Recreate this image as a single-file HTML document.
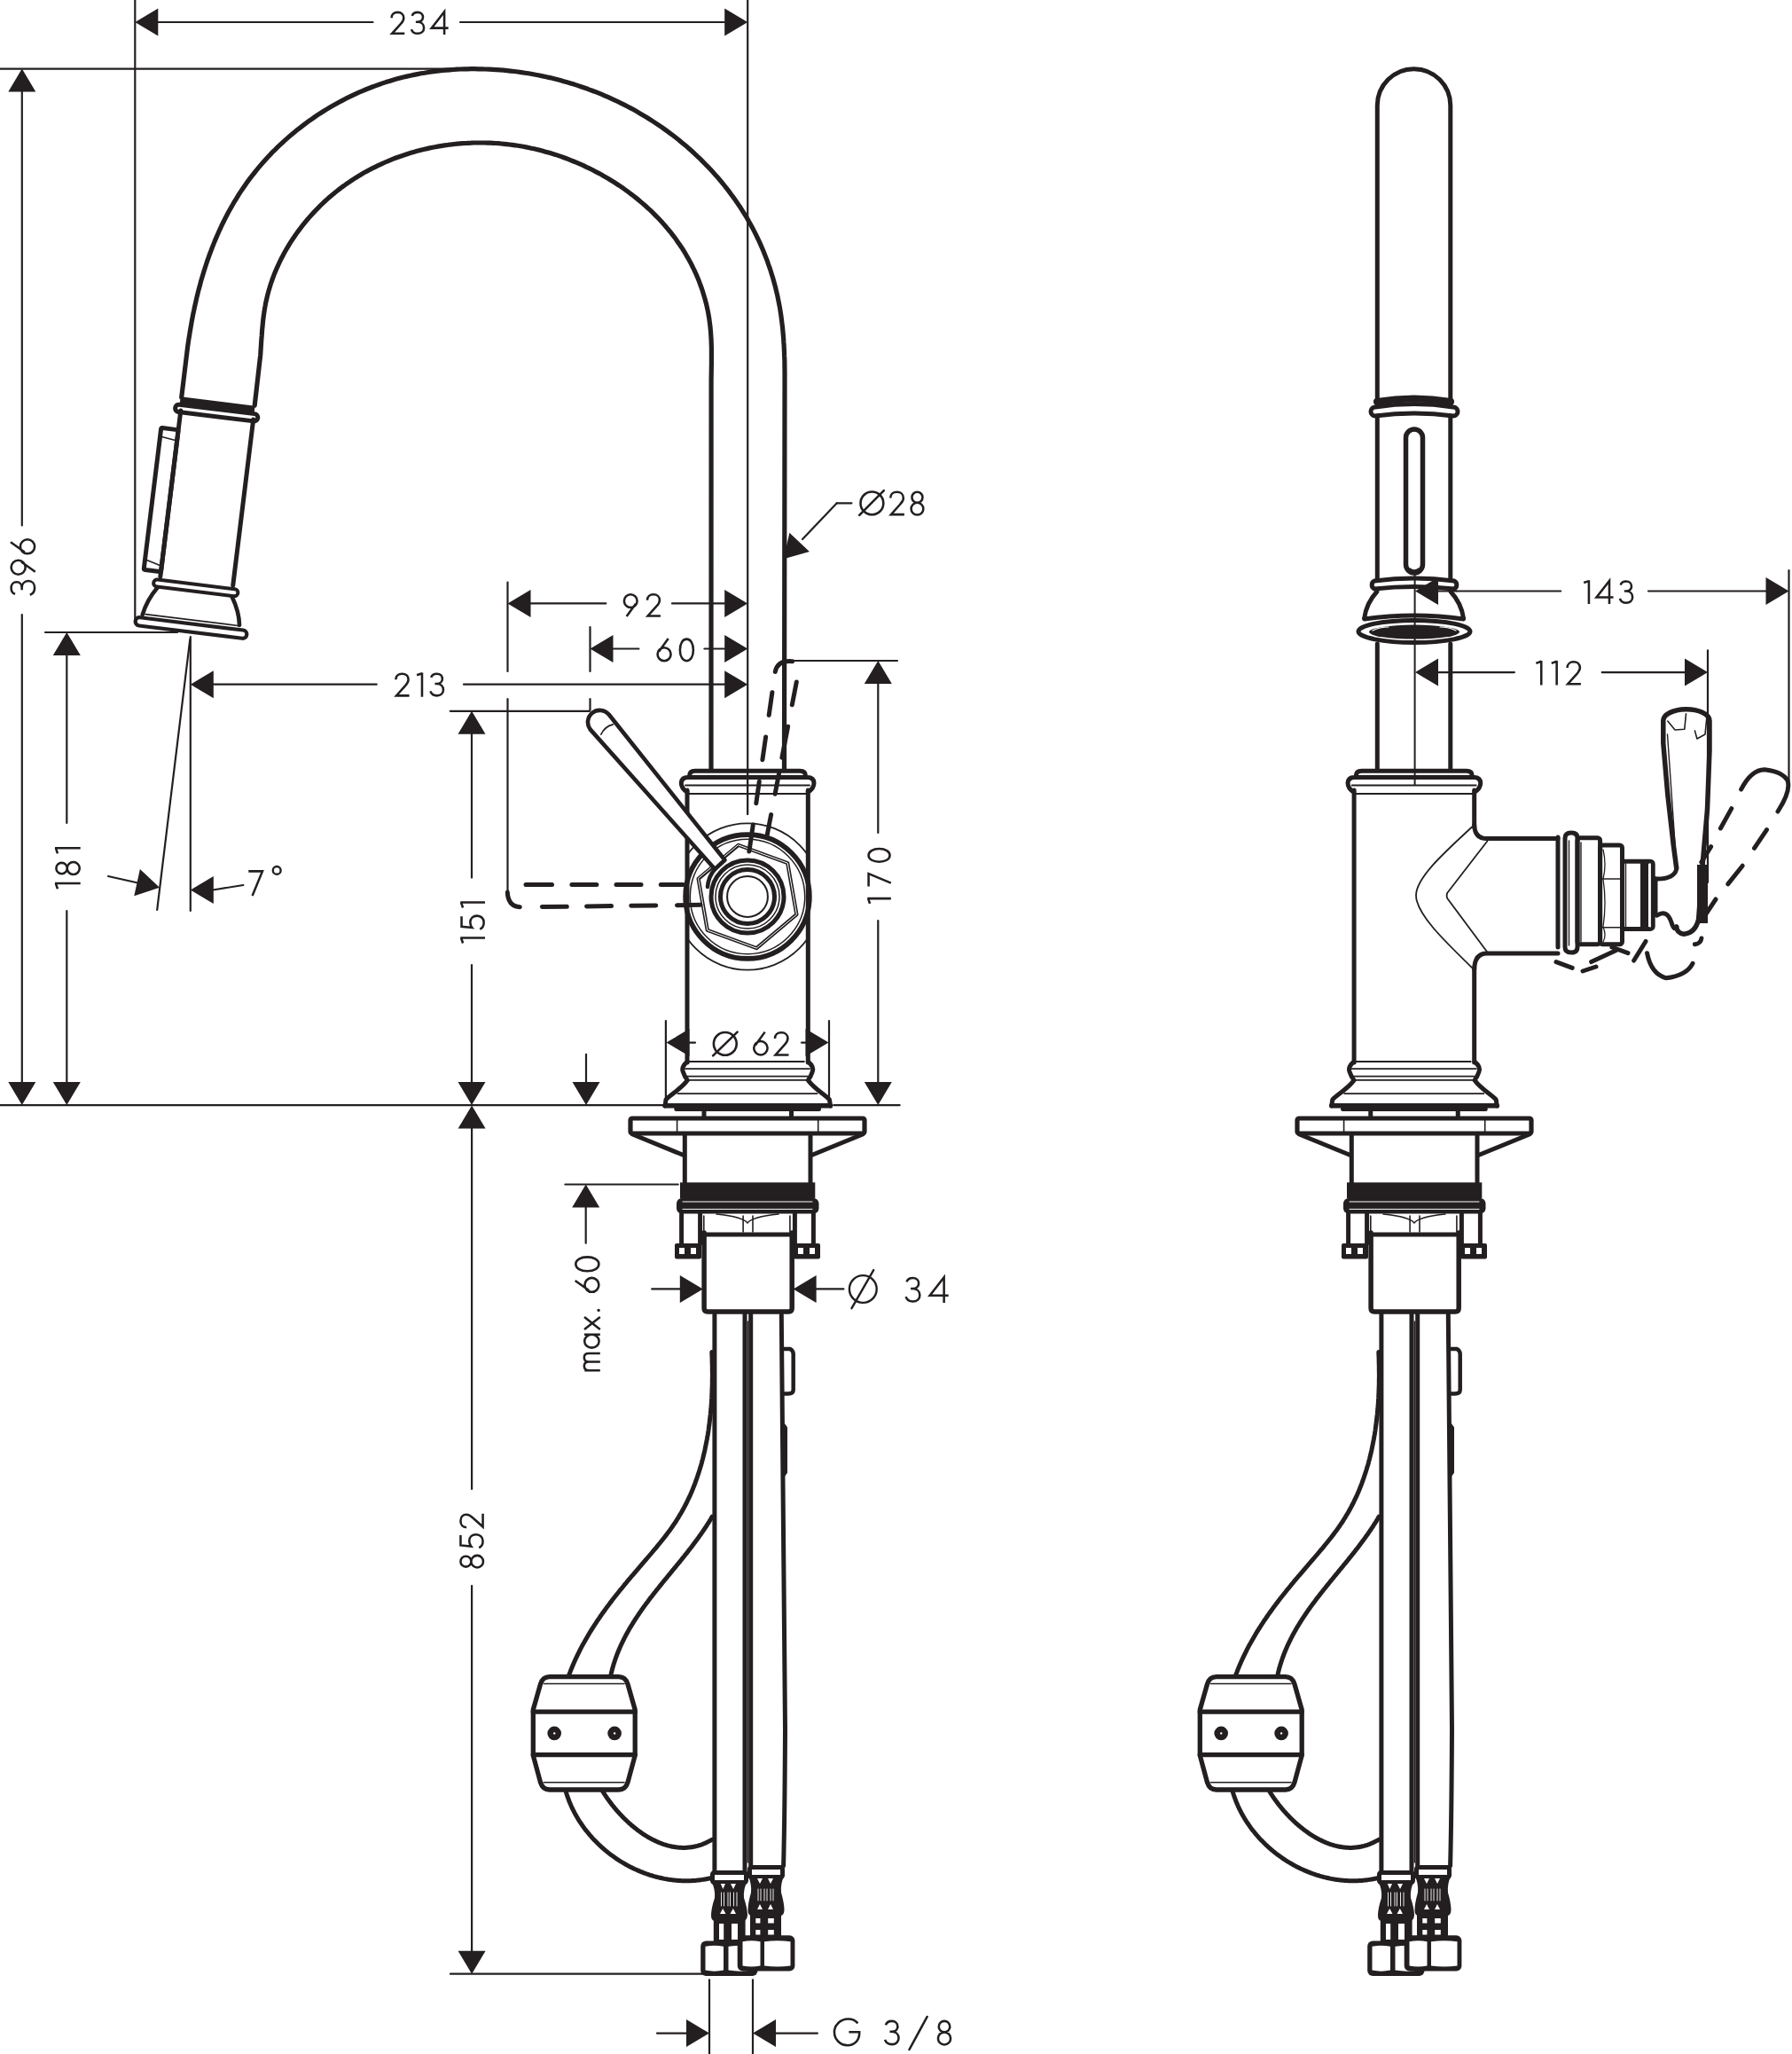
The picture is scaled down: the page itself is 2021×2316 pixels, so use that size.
<!DOCTYPE html>
<html><head><meta charset="utf-8"><style>
html,body{margin:0;padding:0;background:#fff;}
svg{display:block;will-change:transform;}
text{font-family:"Liberation Sans",sans-serif;fill:#231f20;stroke:#fff;stroke-width:0.9px;}
</style></head><body>
<svg width="2021" height="2316" viewBox="0 0 2021 2316">
<rect width="2021" height="2316" fill="#fff"/>
<g fill="none" stroke="#231f20" stroke-linecap="round" stroke-linejoin="round">
<line x1="152.3" y1="0.0" x2="152.3" y2="700.0" stroke-width="2.2" />
<line x1="843.2" y1="0.0" x2="843.2" y2="918.0" stroke-width="2.2" />
<path d="M152.3,25.0 L178.3,9.5 L178.3,40.5Z" fill="#231f20" stroke="none"/>
<path d="M843.2,25.0 L817.2,40.5 L817.2,9.5Z" fill="#231f20" stroke="none"/>
<line x1="178.0" y1="25.0" x2="420.5" y2="25.0" stroke-width="2.2" />
<line x1="519.0" y1="25.0" x2="817.0" y2="25.0" stroke-width="2.2" />
<line x1="0.0" y1="77.6" x2="545.0" y2="77.6" stroke-width="2.2" />
<path d="M24.8,77.6 L40.3,103.6 L9.3,103.6Z" fill="#231f20" stroke="none"/>
<path d="M24.8,1246.0 L9.3,1220.0 L40.3,1220.0Z" fill="#231f20" stroke="none"/>
<line x1="24.8" y1="103.0" x2="24.8" y2="592.5" stroke-width="2.2" />
<line x1="24.8" y1="693.0" x2="24.8" y2="1221.0" stroke-width="2.2" />
<line x1="0.0" y1="1246.2" x2="748.5" y2="1246.2" stroke-width="2.2" />
<line x1="940.2" y1="1246.2" x2="1014.6" y2="1246.2" stroke-width="2.2" />
<line x1="51.0" y1="713.0" x2="200.0" y2="713.0" stroke-width="2.2" />
<path d="M75.3,713.0 L90.8,739.0 L59.8,739.0Z" fill="#231f20" stroke="none"/>
<path d="M75.3,1246.0 L59.8,1220.0 L90.8,1220.0Z" fill="#231f20" stroke="none"/>
<line x1="75.3" y1="739.0" x2="75.3" y2="928.0" stroke-width="2.2" />
<line x1="75.3" y1="1027.0" x2="75.3" y2="1221.0" stroke-width="2.2" />
<path d="M214.8,771.7 L240.8,756.2 L240.8,787.2Z" fill="#231f20" stroke="none"/>
<path d="M843.2,771.7 L817.2,787.2 L817.2,756.2Z" fill="#231f20" stroke="none"/>
<line x1="240.0" y1="771.7" x2="424.7" y2="771.7" stroke-width="2.2" />
<line x1="523.0" y1="771.7" x2="817.0" y2="771.7" stroke-width="2.2" />
<line x1="214.8" y1="718.0" x2="214.8" y2="1027.0" stroke-width="2.2" />
<line x1="214.3" y1="720.9" x2="177.2" y2="1025.8" stroke-width="2.2" />
<path d="M180.0,1000.7 L151.3,1010.3 L157.9,980.0Z" fill="#231f20" stroke="none"/>
<line x1="122.0" y1="988.0" x2="160.0" y2="996.5" stroke-width="2.2" />
<path d="M214.8,1003.5 L240.8,988.0 L240.8,1019.0Z" fill="#231f20" stroke="none"/>
<line x1="240.0" y1="1003.5" x2="274.3" y2="998.0" stroke-width="2.2" />
<path d="M572.5,680.4 L598.5,664.9 L598.5,695.9Z" fill="#231f20" stroke="none"/>
<path d="M843.2,680.4 L817.2,695.9 L817.2,664.9Z" fill="#231f20" stroke="none"/>
<line x1="598.0" y1="680.4" x2="683.3" y2="680.4" stroke-width="2.2" />
<line x1="758.0" y1="680.4" x2="817.0" y2="680.4" stroke-width="2.2" />
<line x1="572.5" y1="656.7" x2="572.5" y2="757.0" stroke-width="2.2" />
<line x1="572.5" y1="788.0" x2="572.5" y2="1006.0" stroke-width="2.2" />
<path d="M665.5,731.5 L691.5,716.0 L691.5,747.0Z" fill="#231f20" stroke="none"/>
<path d="M843.2,731.5 L817.2,747.0 L817.2,716.0Z" fill="#231f20" stroke="none"/>
<line x1="691.0" y1="731.5" x2="720.4" y2="731.5" stroke-width="2.2" />
<line x1="794.4" y1="731.5" x2="817.0" y2="731.5" stroke-width="2.2" />
<line x1="665.5" y1="707.0" x2="665.5" y2="757.0" stroke-width="2.2" />
<line x1="665.5" y1="788.0" x2="665.5" y2="801.0" stroke-width="2.2" />
<line x1="507.8" y1="801.8" x2="665.0" y2="801.8" stroke-width="2.2" />
<path d="M532.0,801.8 L547.5,827.8 L516.5,827.8Z" fill="#231f20" stroke="none"/>
<path d="M532.0,1246.0 L516.5,1220.0 L547.5,1220.0Z" fill="#231f20" stroke="none"/>
<line x1="532.0" y1="827.0" x2="532.0" y2="989.6" stroke-width="2.2" />
<line x1="532.0" y1="1088.0" x2="532.0" y2="1221.0" stroke-width="2.2" />
<line x1="894.8" y1="745.0" x2="1012.0" y2="745.0" stroke-width="2.2" />
<path d="M990.3,745.0 L1005.8,771.0 L974.8,771.0Z" fill="#231f20" stroke="none"/>
<path d="M990.3,1246.0 L974.8,1220.0 L1005.8,1220.0Z" fill="#231f20" stroke="none"/>
<line x1="990.3" y1="770.0" x2="990.3" y2="939.0" stroke-width="2.2" />
<line x1="990.3" y1="1038.0" x2="990.3" y2="1221.0" stroke-width="2.2" />
<path d="M661.0,1246.0 L645.5,1220.0 L676.5,1220.0Z" fill="#231f20" stroke="none"/>
<line x1="661.0" y1="1188.8" x2="661.0" y2="1221.0" stroke-width="2.2" />
<line x1="750.9" y1="1151.0" x2="750.9" y2="1246.0" stroke-width="2.2" />
<line x1="935.0" y1="1151.0" x2="935.0" y2="1246.0" stroke-width="2.2" />
<path d="M751.5,1175.6 L777.5,1160.1 L777.5,1191.1Z" fill="#231f20" stroke="none"/>
<path d="M934.5,1175.6 L908.5,1191.1 L908.5,1160.1Z" fill="#231f20" stroke="none"/>
<line x1="777.0" y1="1175.6" x2="784.0" y2="1175.6" stroke-width="2.2" />
<line x1="904.0" y1="1175.6" x2="911.0" y2="1175.6" stroke-width="2.2" />
<circle cx="817.8" cy="1176.9" r="12.9" stroke-width="2.6"/>
<line x1="804.1" y1="1190.4" x2="831.6" y2="1163.6" stroke-width="2.6" />
<path d="M883.7,630.2 L890.4,600.7 L912.9,622.1Z" fill="#231f20" stroke="none"/>
<line x1="905.0" y1="608.0" x2="943.6" y2="567.4" stroke-width="2.2" />
<line x1="943.6" y1="567.4" x2="960.4" y2="567.4" stroke-width="2.2" />
<circle cx="983.4" cy="567.4" r="12.9" stroke-width="2.6"/>
<line x1="969.2" y1="580.8" x2="996.8" y2="553.2" stroke-width="2.6" />
<line x1="637.4" y1="1335.5" x2="764.7" y2="1335.5" stroke-width="2.2" />
<path d="M660.7,1335.5 L676.2,1361.5 L645.2,1361.5Z" fill="#231f20" stroke="none"/>
<line x1="660.7" y1="1361.0" x2="660.7" y2="1401.7" stroke-width="2.2" />
<path d="M792.8,1453.4 L766.8,1468.9 L766.8,1437.9Z" fill="#231f20" stroke="none"/>
<line x1="735.2" y1="1453.4" x2="768.0" y2="1453.4" stroke-width="2.2" />
<path d="M894.6,1453.4 L920.6,1437.9 L920.6,1468.9Z" fill="#231f20" stroke="none"/>
<line x1="919.0" y1="1453.4" x2="951.4" y2="1453.4" stroke-width="2.2" />
<circle cx="973.3" cy="1453.5" r="15.4" stroke-width="2.4"/>
<line x1="960.5" y1="1475.2" x2="985.2" y2="1432.1" stroke-width="2.4" />
<path d="M532.1,1246.5 L547.6,1272.5 L516.6,1272.5Z" fill="#231f20" stroke="none"/>
<path d="M532.1,2225.7 L516.6,2199.7 L547.6,2199.7Z" fill="#231f20" stroke="none"/>
<line x1="532.1" y1="1272.0" x2="532.1" y2="1679.0" stroke-width="2.2" />
<line x1="532.1" y1="1788.0" x2="532.1" y2="2201.0" stroke-width="2.2" />
<line x1="508.0" y1="2225.7" x2="792.0" y2="2225.7" stroke-width="2.2" />
<line x1="800.0" y1="2232.4" x2="800.0" y2="2316.0" stroke-width="2.2" />
<line x1="849.0" y1="2232.4" x2="849.0" y2="2316.0" stroke-width="2.2" />
<path d="M800.0,2292.6 L774.0,2308.1 L774.0,2277.1Z" fill="#231f20" stroke="none"/>
<line x1="741.0" y1="2292.6" x2="775.0" y2="2292.6" stroke-width="2.2" />
<path d="M849.0,2292.6 L875.0,2277.1 L875.0,2308.1Z" fill="#231f20" stroke="none"/>
<line x1="874.0" y1="2292.6" x2="921.9" y2="2292.6" stroke-width="2.2" />
<line x1="1025.5" y1="2311.0" x2="1045.6" y2="2274.0" stroke-width="2.6" />
<path d="M204.7,448.0 L211.7,390.4 L212.3,386.3 L212.9,382.3 L213.6,378.2 L214.2,374.2 L214.9,370.2 L215.6,366.1 L216.3,362.1 L217.1,358.1 L217.8,354.1 L218.7,350.1 L219.5,346.1 L220.4,342.1 L221.3,338.1 L222.2,334.1 L223.2,330.2 L224.2,326.2 L225.3,322.3 L226.3,318.3 L227.4,314.4 L228.6,310.5 L229.8,306.6 L231.0,302.7 L232.3,298.8 L233.5,295.0 L234.9,291.1 L236.2,287.3 L237.7,283.5 L239.1,279.7 L240.6,275.9 L242.1,272.1 L243.7,268.4 L245.3,264.7 L246.9,261.0 L248.6,257.3 L250.3,253.7 L252.1,250.0 L253.9,246.4 L255.8,242.8 L257.6,239.3 L259.6,235.7 L261.6,232.2 L263.6,228.7 L265.7,225.3 L267.8,221.8 L269.9,218.4 L272.1,215.1 L274.4,211.7 L276.7,208.4 L279.0,205.1 L281.4,201.9 L283.9,198.6 L286.4,195.5 L288.9,192.3 L291.5,189.2 L294.1,186.1 L296.8,183.0 L299.5,180.0 L302.2,177.0 L305.0,174.1 L307.8,171.1 L310.7,168.3 L313.6,165.4 L316.6,162.6 L319.6,159.8 L322.6,157.1 L325.7,154.4 L328.8,151.8 L331.9,149.2 L335.1,146.6 L338.3,144.1 L341.5,141.6 L344.8,139.1 L348.1,136.7 L351.5,134.3 L354.8,132.0 L358.2,129.7 L361.6,127.5 L365.1,125.3 L368.6,123.1 L372.1,121.0 L375.6,119.0 L379.2,117.0 L382.8,115.0 L386.4,113.1 L390.0,111.2 L393.7,109.4 L397.4,107.6 L401.1,105.9 L404.8,104.2 L408.6,102.6 L412.3,101.0 L416.1,99.5 L419.9,98.0 L423.8,96.6 L427.6,95.2 L431.4,93.9 L435.3,92.6 L439.2,91.4 L443.1,90.2 L447.0,89.1 L451.0,88.0 L454.9,87.0 L458.8,86.1 L462.8,85.2 L466.8,84.4 L470.8,83.6 L474.8,82.8 L478.8,82.2 L482.8,81.5 L486.8,80.9 L490.8,80.4 L494.9,79.9 L498.9,79.5 L502.9,79.1 L507.0,78.8 L511.0,78.5 L515.1,78.2 L519.2,78.0 L523.2,77.9 L527.3,77.8 L531.3,77.7 L535.4,77.7 L539.5,77.8 L543.5,77.8 L547.6,78.0 L551.7,78.1 L555.7,78.3 L559.8,78.6 L563.8,78.9 L567.9,79.2 L571.9,79.6 L576.0,80.1 L580.0,80.5 L584.1,81.0 L588.1,81.6 L592.1,82.2 L596.1,82.8 L600.1,83.5 L604.1,84.3 L608.1,85.0 L612.1,85.9 L616.1,86.7 L620.1,87.6 L624.0,88.6 L628.0,89.6 L631.9,90.6 L635.8,91.7 L639.7,92.8 L643.6,93.9 L647.5,95.1 L651.4,96.4 L655.3,97.7 L659.1,99.0 L662.9,100.3 L666.7,101.8 L670.5,103.2 L674.3,104.7 L678.1,106.2 L681.8,107.8 L685.6,109.4 L689.3,111.1 L693.0,112.8 L696.7,114.5 L700.3,116.3 L704.0,118.1 L707.6,120.0 L711.2,121.9 L714.8,123.8 L718.3,125.8 L721.8,127.9 L725.3,129.9 L728.8,132.0 L732.3,134.2 L735.7,136.4 L739.1,138.6 L742.5,140.9 L745.9,143.2 L749.2,145.5 L752.5,147.9 L755.8,150.3 L759.1,152.8 L762.3,155.3 L765.5,157.8 L768.6,160.4 L771.8,163.0 L774.9,165.6 L777.9,168.3 L781.0,171.0 L784.0,173.8 L786.9,176.6 L789.9,179.4 L792.8,182.3 L795.6,185.2 L798.5,188.1 L801.3,191.0 L804.0,194.0 L806.7,197.1 L809.4,200.1 L812.1,203.2 L814.7,206.3 L817.2,209.5 L819.7,212.7 L822.2,215.9 L824.6,219.2 L827.0,222.4 L829.4,225.7 L831.7,229.1 L834.0,232.4 L836.2,235.8 L838.4,239.3 L840.5,242.7 L842.6,246.2 L844.6,249.7 L846.6,253.3 L848.5,256.8 L850.4,260.4 L852.3,264.1 L854.0,267.7 L855.8,271.4 L857.5,275.1 L859.1,278.8 L860.7,282.6 L862.2,286.3 L863.7,290.1 L865.2,293.9 L866.5,297.8 L867.9,301.6 L869.2,305.5 L870.4,309.4 L871.6,313.2 L872.7,317.2 L873.8,321.1 L874.8,325.0 L875.7,329.0 L876.7,332.9 L877.5,336.9 L878.3,340.9 L879.1,344.9 L879.8,348.9 L880.4,352.9 L881.0,356.9 L881.5,360.9 L882.0,365.0 L882.5,369.0 L882.9,373.0 L883.2,377.1 L883.6,381.1 L883.8,385.2 L884.1,389.2 L884.3,393.3 L884.5,397.3 L884.6,401.4 L884.8,405.5 L884.9,409.6 L884.9,413.6 L885.0,417.7 L885.0,421.8 L885.0,425.9 L885.0,430.0 L884.5,868" stroke-width="5.2" />
<path d="M287.2,457.1 L293.7,400.5 L293.9,397.3 L294.1,394.2 L294.3,391.1 L294.5,388.0 L294.7,384.9 L294.9,381.8 L295.2,378.7 L295.4,375.6 L295.6,372.5 L295.9,369.4 L296.2,366.4 L296.5,363.3 L296.8,360.2 L297.2,357.1 L297.6,354.1 L298.1,351.0 L298.5,348.0 L299.1,344.9 L299.6,341.9 L300.3,338.9 L301.0,335.9 L301.7,332.9 L302.5,329.9 L303.3,326.9 L304.2,323.9 L305.1,320.9 L306.1,318.0 L307.1,315.1 L308.2,312.1 L309.3,309.2 L310.5,306.3 L311.7,303.4 L313.0,300.6 L314.3,297.7 L315.6,294.9 L317.0,292.1 L318.5,289.3 L319.9,286.5 L321.4,283.8 L323.0,281.0 L324.6,278.3 L326.2,275.6 L327.9,272.9 L329.6,270.3 L331.4,267.7 L333.2,265.0 L335.0,262.5 L336.9,259.9 L338.8,257.4 L340.7,254.9 L342.7,252.4 L344.7,249.9 L346.7,247.5 L348.8,245.1 L350.9,242.7 L353.0,240.4 L355.2,238.1 L357.4,235.8 L359.6,233.6 L361.8,231.3 L364.1,229.2 L366.4,227.0 L368.7,224.9 L371.1,222.8 L373.5,220.7 L375.9,218.7 L378.3,216.7 L380.8,214.8 L383.2,212.9 L385.7,211.0 L388.3,209.2 L390.8,207.3 L393.4,205.6 L396.0,203.8 L398.6,202.1 L401.2,200.4 L403.9,198.8 L406.5,197.2 L409.2,195.6 L411.9,194.1 L414.7,192.6 L417.4,191.1 L420.2,189.7 L423.0,188.3 L425.8,186.9 L428.6,185.6 L431.4,184.3 L434.3,183.0 L437.1,181.8 L440.0,180.6 L442.9,179.4 L445.8,178.3 L448.7,177.2 L451.7,176.2 L454.6,175.2 L457.6,174.2 L460.5,173.2 L463.5,172.3 L466.5,171.4 L469.5,170.6 L472.5,169.8 L475.6,169.0 L478.6,168.3 L481.6,167.6 L484.7,166.9 L487.7,166.3 L490.8,165.7 L493.9,165.1 L496.9,164.6 L500.0,164.1 L503.1,163.7 L506.2,163.2 L509.3,162.9 L512.4,162.5 L515.5,162.2 L518.6,161.9 L521.7,161.7 L524.9,161.5 L528.0,161.3 L531.1,161.2 L534.2,161.0 L537.3,161.0 L540.5,161.0 L543.6,161.0 L546.7,161.0 L549.8,161.1 L553.0,161.2 L556.1,161.3 L559.2,161.5 L562.3,161.7 L565.4,162.0 L568.5,162.3 L571.6,162.6 L574.7,163.0 L577.8,163.4 L580.9,163.8 L584.0,164.3 L587.1,164.8 L590.2,165.3 L593.2,165.9 L596.3,166.5 L599.3,167.2 L602.4,167.8 L605.4,168.5 L608.5,169.3 L611.5,170.1 L614.5,170.9 L617.5,171.7 L620.5,172.6 L623.5,173.5 L626.5,174.4 L629.5,175.4 L632.4,176.4 L635.4,177.5 L638.3,178.5 L641.2,179.6 L644.1,180.8 L647.0,182.0 L649.9,183.2 L652.8,184.4 L655.7,185.6 L658.5,186.9 L661.3,188.3 L664.2,189.6 L667.0,191.0 L669.8,192.4 L672.5,193.9 L675.3,195.3 L678.0,196.8 L680.8,198.4 L683.5,199.9 L686.2,201.5 L688.9,203.2 L691.5,204.8 L694.2,206.5 L696.8,208.2 L699.4,209.9 L702.0,211.7 L704.5,213.5 L707.1,215.3 L709.6,217.2 L712.1,219.1 L714.6,221.0 L717.0,222.9 L719.5,224.9 L721.9,226.9 L724.2,228.9 L726.6,230.9 L728.9,233.0 L731.2,235.1 L733.5,237.2 L735.8,239.4 L738.0,241.6 L740.2,243.8 L742.4,246.0 L744.5,248.3 L746.6,250.6 L748.7,252.9 L750.7,255.2 L752.7,257.6 L754.7,260.0 L756.7,262.4 L758.6,264.9 L760.5,267.3 L762.3,269.8 L764.1,272.4 L765.9,274.9 L767.6,277.5 L769.4,280.1 L771.0,282.7 L772.7,285.4 L774.2,288.1 L775.8,290.8 L777.3,293.5 L778.8,296.2 L780.2,299.0 L781.6,301.8 L783.0,304.6 L784.3,307.5 L785.6,310.4 L786.8,313.2 L788.0,316.1 L789.1,319.1 L790.2,322.0 L791.3,325.0 L792.3,328.0 L793.2,331.0 L794.1,334.0 L795.0,337.0 L795.8,340.0 L796.6,343.0 L797.3,346.1 L798.0,349.2 L798.6,352.2 L799.1,355.3 L799.7,358.4 L800.1,361.5 L800.5,364.5 L800.9,367.6 L801.2,370.7 L801.5,373.8 L801.7,376.9 L801.9,380.0 L802.1,383.1 L802.2,386.2 L802.3,389.4 L802.4,392.5 L802.4,395.6 L802.4,398.7 L802.4,401.8 L802.4,405.0 L802.4,408.1 L802.4,411.2 L802.3,414.3 L802.3,417.5 L802.2,420.6 L802.2,423.7 L802.1,426.8 L802.1,430.0 L802,868" stroke-width="5.2" />
<g transform="translate(215.9,713.3) rotate(7)">
<rect x="-64.3" y="-9.85" width="126.5" height="9.3" rx="4.65" stroke-width="4.2"/>
<line x1="-54.0" y1="-14.2" x2="51.0" y2="-14.2" stroke-width="1.6" />
<path d="M-44,-46 C-50,-37 -55,-27 -57.3,-13" stroke-width="4.6" />
<path d="M40.3,-46 C46,-37 51,-27 52.7,-15" stroke-width="4.6" />
<rect x="-49.2" y="-54.6" width="95.8" height="8" rx="4" stroke-width="4"/>
<line x1="-42.5" y1="-58.5" x2="-42.5" y2="-247.0" stroke-width="5" />
<line x1="40.0" y1="-58.5" x2="40.0" y2="-247.0" stroke-width="5" />
<rect x="-44.5" y="-262.5" width="84.5" height="9.5" fill="#231f20" stroke="none"/>
<rect x="-49" y="-253.5" width="93.8" height="8.3" rx="4.15" stroke-width="5"/>
<rect x="-62" y="-225" width="19.5" height="161" rx="1.5" stroke-width="5"/>
<line x1="-60.0" y1="-215.0" x2="-44.5" y2="-213.0" stroke-width="1.6" />
<line x1="-60.0" y1="-75.0" x2="-44.5" y2="-71.0" stroke-width="1.6" />
</g>
<g transform="translate(440.00,39.10) scale(0.9815)"><path d="M1.6,-19.2 C1.6,-23.3 4.6,-25.7 8.6,-25.7 C12.8,-25.7 15.6,-23 15.6,-19.3 C15.6,-16.6 14.2,-14.6 12.2,-12.5 L2.2,-1.3 H16.6" stroke-width="2.598" stroke-linecap="butt" stroke-linejoin="miter"/></g>
<g transform="translate(462.79,39.10) scale(0.9815)"><path d="M2.0,-21.6 C2.8,-24.2 5.3,-25.7 8.4,-25.7 C12.0,-25.7 14.5,-23.4 14.5,-20.1 C14.5,-16.8 12.0,-14.6 8.3,-14.6 H6.2 M8.3,-14.6 C12.6,-14.6 15.6,-11.9 15.6,-7.8 C15.6,-3.8 12.6,-1.3 8.5,-1.3 C5.0,-1.3 2.2,-3.0 1.2,-6.2" stroke-width="2.598" stroke-linecap="butt" stroke-linejoin="miter"/></g>
<g transform="translate(485.39,39.10) scale(0.9815)"><path d="M16.0,0 V-26.3 L1.4,-7.6 H20.6" stroke-width="2.598" stroke-linecap="butt" stroke-linejoin="miter"/></g>
<g transform="translate(444.80,785.70) scale(1.0111)"><path d="M1.6,-19.2 C1.6,-23.3 4.6,-25.7 8.6,-25.7 C12.8,-25.7 15.6,-23 15.6,-19.3 C15.6,-16.6 14.2,-14.6 12.2,-12.5 L2.2,-1.3 H16.6" stroke-width="2.522" stroke-linecap="butt" stroke-linejoin="miter"/></g>
<g transform="translate(468.90,785.70) scale(1.0111)"><path d="M1.2,-24.2 L7,-26.2 M7,-27 V0" stroke-width="2.522" stroke-linecap="butt" stroke-linejoin="miter"/></g>
<g transform="translate(484.21,785.70) scale(1.0111)"><path d="M2.0,-21.6 C2.8,-24.2 5.3,-25.7 8.4,-25.7 C12.0,-25.7 14.5,-23.4 14.5,-20.1 C14.5,-16.8 12.0,-14.6 8.3,-14.6 H6.2 M8.3,-14.6 C12.6,-14.6 15.6,-11.9 15.6,-7.8 C15.6,-3.8 12.6,-1.3 8.5,-1.3 C5.0,-1.3 2.2,-3.0 1.2,-6.2" stroke-width="2.522" stroke-linecap="butt" stroke-linejoin="miter"/></g>
<g transform="translate(702.30,695.80) scale(0.9926)"><path d="M4.4,-0.7 L14.8,-15.2 M9,-25.7 A7.4,7.4 0 1 0 9,-10.9 A7.4,7.4 0 1 0 9,-25.7Z" stroke-width="2.569" stroke-linecap="butt" stroke-linejoin="miter"/></g>
<g transform="translate(728.43,695.80) scale(0.9926)"><path d="M1.6,-19.2 C1.6,-23.3 4.6,-25.7 8.6,-25.7 C12.8,-25.7 15.6,-23 15.6,-19.3 C15.6,-16.6 14.2,-14.6 12.2,-12.5 L2.2,-1.3 H16.6" stroke-width="2.569" stroke-linecap="butt" stroke-linejoin="miter"/></g>
<g transform="translate(740.00,746.50) scale(1.0074)"><path d="M13.6,-26.3 L3.2,-11.8 M9,-16.2 A7.4,7.4 0 1 0 9,-1.3 A7.4,7.4 0 1 0 9,-16.2Z" stroke-width="2.531" stroke-linecap="butt" stroke-linejoin="miter"/></g>
<g transform="translate(765.57,746.50) scale(1.0074)"><path d="M8.75,-25.7 C4.2,-25.7 1.3,-20.5 1.3,-13.5 C1.3,-6.5 4.2,-1.3 8.75,-1.3 C13.3,-1.3 16.2,-6.5 16.2,-13.5 C16.2,-20.5 13.3,-25.7 8.75,-25.7Z" stroke-width="2.531" stroke-linecap="butt" stroke-linejoin="miter"/></g>
<g transform="translate(1002.60,581.50) scale(1.0407)"><path d="M1.6,-19.2 C1.6,-23.3 4.6,-25.7 8.6,-25.7 C12.8,-25.7 15.6,-23 15.6,-19.3 C15.6,-16.6 14.2,-14.6 12.2,-12.5 L2.2,-1.3 H16.6" stroke-width="2.450" stroke-linecap="butt" stroke-linejoin="miter"/></g>
<g transform="translate(1025.72,581.50) scale(1.0407)"><path d="M8.4,-25.7 A5.8,5.8 0 1 0 8.4,-14.1 A5.8,5.8 0 1 0 8.4,-25.7Z M8.4,-14.1 A6.6,6.6 0 1 0 8.4,-0.9 A6.6,6.6 0 1 0 8.4,-14.1Z" stroke-width="2.450" stroke-linecap="butt" stroke-linejoin="miter"/></g>
<g transform="translate(848.60,1190.80) scale(1.0333)"><path d="M13.6,-26.3 L3.2,-11.8 M9,-16.2 A7.4,7.4 0 1 0 9,-1.3 A7.4,7.4 0 1 0 9,-16.2Z" stroke-width="2.468" stroke-linecap="butt" stroke-linejoin="miter"/></g>
<g transform="translate(872.33,1190.80) scale(1.0333)"><path d="M1.6,-19.2 C1.6,-23.3 4.6,-25.7 8.6,-25.7 C12.8,-25.7 15.6,-23 15.6,-19.3 C15.6,-16.6 14.2,-14.6 12.2,-12.5 L2.2,-1.3 H16.6" stroke-width="2.468" stroke-linecap="butt" stroke-linejoin="miter"/></g>
<g transform="translate(1785.00,681.00) scale(0.9889)"><path d="M1.2,-24.2 L7,-26.2 M7,-27 V0" stroke-width="2.579" stroke-linecap="butt" stroke-linejoin="miter"/></g>
<g transform="translate(1799.16,681.00) scale(0.9889)"><path d="M16.0,0 V-26.3 L1.4,-7.6 H20.6" stroke-width="2.579" stroke-linecap="butt" stroke-linejoin="miter"/></g>
<g transform="translate(1825.69,681.00) scale(0.9889)"><path d="M2.0,-21.6 C2.8,-24.2 5.3,-25.7 8.4,-25.7 C12.0,-25.7 14.5,-23.4 14.5,-20.1 C14.5,-16.8 12.0,-14.6 8.3,-14.6 H6.2 M8.3,-14.6 C12.6,-14.6 15.6,-11.9 15.6,-7.8 C15.6,-3.8 12.6,-1.3 8.5,-1.3 C5.0,-1.3 2.2,-3.0 1.2,-6.2" stroke-width="2.579" stroke-linecap="butt" stroke-linejoin="miter"/></g>
<g transform="translate(1731.10,772.60) scale(1.0222)"><path d="M1.2,-24.2 L7,-26.2 M7,-27 V0" stroke-width="2.495" stroke-linecap="butt" stroke-linejoin="miter"/></g>
<g transform="translate(1748.51,772.60) scale(1.0222)"><path d="M1.2,-24.2 L7,-26.2 M7,-27 V0" stroke-width="2.495" stroke-linecap="butt" stroke-linejoin="miter"/></g>
<g transform="translate(1765.92,772.60) scale(1.0222)"><path d="M1.6,-19.2 C1.6,-23.3 4.6,-25.7 8.6,-25.7 C12.8,-25.7 15.6,-23 15.6,-19.3 C15.6,-16.6 14.2,-14.6 12.2,-12.5 L2.2,-1.3 H16.6" stroke-width="2.495" stroke-linecap="butt" stroke-linejoin="miter"/></g>
<g transform="translate(1020.30,1469.00) scale(1.0926)"><path d="M2.0,-21.6 C2.8,-24.2 5.3,-25.7 8.4,-25.7 C12.0,-25.7 14.5,-23.4 14.5,-20.1 C14.5,-16.8 12.0,-14.6 8.3,-14.6 H6.2 M8.3,-14.6 C12.6,-14.6 15.6,-11.9 15.6,-7.8 C15.6,-3.8 12.6,-1.3 8.5,-1.3 C5.0,-1.3 2.2,-3.0 1.2,-6.2" stroke-width="2.334" stroke-linecap="butt" stroke-linejoin="miter"/></g>
<g transform="translate(1047.16,1469.00) scale(1.0926)"><path d="M16.0,0 V-26.3 L1.4,-7.6 H20.6" stroke-width="2.334" stroke-linecap="butt" stroke-linejoin="miter"/></g>
<g transform="translate(279.00,1010.00) scale(1.0741)"><path d="M1.2,-25.7 H15.8 L5.2,0" stroke-width="2.374" stroke-linecap="butt" stroke-linejoin="miter"/></g>
<circle cx="312.2" cy="981.4" r="4.4" stroke-width="2.4"/>
<g transform="translate(939.60,2306.50) scale(1.0453)"><path d="M26.6,-24.0 C24.2,-27.0 20.6,-28.7 16.2,-28.7 C8.3,-28.7 1.3,-22.6 1.3,-14.5 C1.3,-6.3 8.0,-0.3 15.6,-0.3 C23.0,-0.3 28.3,-5.6 28.3,-13.4 V-14.6 H17.0" stroke-width="2.439" stroke-linecap="butt" stroke-linejoin="miter"/></g>
<g transform="translate(996.80,2306.50) scale(1.0741)"><path d="M2.0,-21.6 C2.8,-24.2 5.3,-25.7 8.4,-25.7 C12.0,-25.7 14.5,-23.4 14.5,-20.1 C14.5,-16.8 12.0,-14.6 8.3,-14.6 H6.2 M8.3,-14.6 C12.6,-14.6 15.6,-11.9 15.6,-7.8 C15.6,-3.8 12.6,-1.3 8.5,-1.3 C5.0,-1.3 2.2,-3.0 1.2,-6.2" stroke-width="2.374" stroke-linecap="butt" stroke-linejoin="miter"/></g>
<g transform="translate(1056.00,2306.50) scale(1.0741)"><path d="M8.4,-25.7 A5.8,5.8 0 1 0 8.4,-14.1 A5.8,5.8 0 1 0 8.4,-25.7Z M8.4,-14.1 A6.6,6.6 0 1 0 8.4,-0.9 A6.6,6.6 0 1 0 8.4,-14.1Z" stroke-width="2.374" stroke-linecap="butt" stroke-linejoin="miter"/></g>
<g transform="translate(40.50,672.00) rotate(-90) scale(1.0852)"><path d="M2.0,-21.6 C2.8,-24.2 5.3,-25.7 8.4,-25.7 C12.0,-25.7 14.5,-23.4 14.5,-20.1 C14.5,-16.8 12.0,-14.6 8.3,-14.6 H6.2 M8.3,-14.6 C12.6,-14.6 15.6,-11.9 15.6,-7.8 C15.6,-3.8 12.6,-1.3 8.5,-1.3 C5.0,-1.3 2.2,-3.0 1.2,-6.2" stroke-width="2.350" stroke-linecap="butt" stroke-linejoin="miter"/></g>
<g transform="translate(40.50,649.56) rotate(-90) scale(1.0852)"><path d="M4.4,-0.7 L14.8,-15.2 M9,-25.7 A7.4,7.4 0 1 0 9,-10.9 A7.4,7.4 0 1 0 9,-25.7Z" stroke-width="2.350" stroke-linecap="butt" stroke-linejoin="miter"/></g>
<g transform="translate(40.50,626.03) rotate(-90) scale(1.0852)"><path d="M13.6,-26.3 L3.2,-11.8 M9,-16.2 A7.4,7.4 0 1 0 9,-1.3 A7.4,7.4 0 1 0 9,-16.2Z" stroke-width="2.350" stroke-linecap="butt" stroke-linejoin="miter"/></g>
<g transform="translate(90.70,1003.50) rotate(-90) scale(1.0630)"><path d="M1.2,-24.2 L7,-26.2 M7,-27 V0" stroke-width="2.399" stroke-linecap="butt" stroke-linejoin="miter"/></g>
<g transform="translate(90.70,987.98) rotate(-90) scale(1.0630)"><path d="M8.4,-25.7 A5.8,5.8 0 1 0 8.4,-14.1 A5.8,5.8 0 1 0 8.4,-25.7Z M8.4,-14.1 A6.6,6.6 0 1 0 8.4,-0.9 A6.6,6.6 0 1 0 8.4,-14.1Z" stroke-width="2.399" stroke-linecap="butt" stroke-linejoin="miter"/></g>
<g transform="translate(90.70,963.64) rotate(-90) scale(1.0630)"><path d="M1.2,-24.2 L7,-26.2 M7,-27 V0" stroke-width="2.399" stroke-linecap="butt" stroke-linejoin="miter"/></g>
<g transform="translate(547.00,1064.70) rotate(-90) scale(1.0296)"><path d="M1.2,-24.2 L7,-26.2 M7,-27 V0" stroke-width="2.477" stroke-linecap="butt" stroke-linejoin="miter"/></g>
<g transform="translate(547.00,1049.00) rotate(-90) scale(1.0296)"><path d="M15.2,-25.7 H4.0 L2.9,-14.2 C4.6,-15.6 6.6,-16.2 8.7,-16.2 C13.0,-16.2 15.9,-13.1 15.9,-8.7 C15.9,-4.2 12.8,-1.3 8.6,-1.3 C5.3,-1.3 2.6,-2.9 1.3,-5.6" stroke-width="2.477" stroke-linecap="butt" stroke-linejoin="miter"/></g>
<g transform="translate(547.00,1024.75) rotate(-90) scale(1.0296)"><path d="M1.2,-24.2 L7,-26.2 M7,-27 V0" stroke-width="2.477" stroke-linecap="butt" stroke-linejoin="miter"/></g>
<g transform="translate(1004.80,1020.00) rotate(-90) scale(0.9815)"><path d="M1.2,-24.2 L7,-26.2 M7,-27 V0" stroke-width="2.598" stroke-linecap="butt" stroke-linejoin="miter"/></g>
<g transform="translate(1004.80,1000.66) rotate(-90) scale(0.9815)"><path d="M1.2,-25.7 H15.8 L5.2,0" stroke-width="2.598" stroke-linecap="butt" stroke-linejoin="miter"/></g>
<g transform="translate(1004.80,972.98) rotate(-90) scale(0.9815)"><path d="M8.75,-25.7 C4.2,-25.7 1.3,-20.5 1.3,-13.5 C1.3,-6.5 4.2,-1.3 8.75,-1.3 C13.3,-1.3 16.2,-6.5 16.2,-13.5 C16.2,-20.5 13.3,-25.7 8.75,-25.7Z" stroke-width="2.598" stroke-linecap="butt" stroke-linejoin="miter"/></g>
<g transform="translate(545.90,1769.30) rotate(-90) scale(1.0296)"><path d="M8.4,-25.7 A5.8,5.8 0 1 0 8.4,-14.1 A5.8,5.8 0 1 0 8.4,-25.7Z M8.4,-14.1 A6.6,6.6 0 1 0 8.4,-0.9 A6.6,6.6 0 1 0 8.4,-14.1Z" stroke-width="2.477" stroke-linecap="butt" stroke-linejoin="miter"/></g>
<g transform="translate(545.90,1746.55) rotate(-90) scale(1.0296)"><path d="M15.2,-25.7 H4.0 L2.9,-14.2 C4.6,-15.6 6.6,-16.2 8.7,-16.2 C13.0,-16.2 15.9,-13.1 15.9,-8.7 C15.9,-4.2 12.8,-1.3 8.6,-1.3 C5.3,-1.3 2.6,-2.9 1.3,-5.6" stroke-width="2.477" stroke-linecap="butt" stroke-linejoin="miter"/></g>
<g transform="translate(545.90,1723.81) rotate(-90) scale(1.0296)"><path d="M1.6,-19.2 C1.6,-23.3 4.6,-25.7 8.6,-25.7 C12.8,-25.7 15.6,-23 15.6,-19.3 C15.6,-16.6 14.2,-14.6 12.2,-12.5 L2.2,-1.3 H16.6" stroke-width="2.477" stroke-linecap="butt" stroke-linejoin="miter"/></g>
<g transform="translate(676.80,1546.50) rotate(-90) scale(1.0000)"><path d="M1.3,0 V-17.5 M1.3,-12.5 C1.3,-16 3.3,-18 6.2,-18 C9.3,-18 11,-16.2 11,-12.8 V0 M11,-12.8 C11,-16.2 13,-18 15.8,-18 C18.8,-18 20.5,-16.2 20.5,-12.8 V0" stroke-width="2.550" stroke-linecap="butt" stroke-linejoin="miter"/></g>
<g transform="translate(676.80,1520.50) rotate(-90) scale(1.0000)"><path d="M15.8,-17.8 V0 M8.3,-17.6 A7.4,8.2 0 1 0 8.3,-1.2 A7.4,8.2 0 1 0 8.3,-17.6Z" stroke-width="2.550" stroke-linecap="butt" stroke-linejoin="miter"/></g>
<g transform="translate(676.80,1500.00) rotate(-90) scale(1.0000)"><path d="M1,-17.8 L15,0 M15,-17.8 L1,0" stroke-width="2.550" stroke-linecap="butt" stroke-linejoin="miter"/></g>
<g transform="translate(676.80,1479.00) rotate(-90) scale(1.0000)"><circle cx="1.6" cy="-1.7" r="1.7" fill="#231f20" stroke="none"/></g>
<g transform="translate(676.80,1458.50) rotate(-90) scale(1.0704)"><path d="M13.6,-26.3 L3.2,-11.8 M9,-16.2 A7.4,7.4 0 1 0 9,-1.3 A7.4,7.4 0 1 0 9,-16.2Z" stroke-width="2.382" stroke-linecap="butt" stroke-linejoin="miter"/></g>
<g transform="translate(676.80,1434.73) rotate(-90) scale(1.0704)"><path d="M8.75,-25.7 C4.2,-25.7 1.3,-20.5 1.3,-13.5 C1.3,-6.5 4.2,-1.3 8.75,-1.3 C13.3,-1.3 16.2,-6.5 16.2,-13.5 C16.2,-20.5 13.3,-25.7 8.75,-25.7Z" stroke-width="2.382" stroke-linecap="butt" stroke-linejoin="miter"/></g>
<!--SPOUTHEAD-->
<g id="cap">
<path d="M777.5,876.5 L777.5,875 Q777.5,869.3 784,869.3 L902,869.3 Q908.5,869.3 908.5,875 L908.5,876.5" stroke-width="5" />
<path d="M775,893 Q768.3,889 768.3,882.7 Q768.8,876.5 776,876.5 L910.5,876.5 Q917.7,876.5 918,882.7 Q918,889 911.3,893" stroke-width="5" />
<line x1="773.0" y1="885.5" x2="913.0" y2="885.5" stroke-width="1.8" />
<line x1="775.0" y1="895.0" x2="911.0" y2="895.0" stroke-width="1.8" />
</g>
<line x1="775.0" y1="891.0" x2="775.0" y2="1198.0" stroke-width="5" />
<line x1="911.3" y1="891.0" x2="911.3" y2="1198.0" stroke-width="5" />
<line x1="843.0" y1="869.0" x2="843.0" y2="918.0" stroke-width="2.0" />
<defs><clipPath id="bodyclip"><rect x="777" y="880" width="132" height="320"/></clipPath></defs>
<g clip-path="url(#bodyclip)">
<circle cx="843" cy="1011" r="82.6" stroke-width="1.8"/>
</g>
<circle cx="843" cy="1011" r="69.9" stroke-width="5.6"/>
<circle cx="843" cy="1011" r="64.7" stroke-width="1.5"/>
<path d="M832.8,952.9 L888.2,973.1 L898.4,1031.2 L853.2,1069.1 L797.8,1048.9 L787.6,990.8Z" stroke-width="4.2" />
<path d="M832.8,952.9 L888.2,973.1 L898.4,1031.2 L853.2,1069.1 L797.8,1048.9 L787.6,990.8Z" stroke-width="1.0" stroke="#fff"/>
<circle cx="843" cy="1011" r="41" stroke-width="5"/>
<circle cx="843" cy="1011" r="36" stroke-width="1.5"/>
<circle cx="843" cy="1011" r="30.5" stroke-width="5"/>
<circle cx="843" cy="1011" r="22.9" stroke-width="2"/>
<path d="M665.6,822.4 L806.3,980 L817.4,969.7 L686.8,805.7 A13.5,13.5 0 0 0 665.6,822.4Z" fill="#fff" stroke-width="4.6"/>
<path d="M677.9,828 Q682,819 691.3,816.8" stroke-width="1.8" />
<path d="M806.3,980 Q799,988 798,1000" stroke-width="4.6" />
<line x1="593.0" y1="997.6" x2="622.5" y2="997.6" stroke-width="5" />
<line x1="644.9" y1="997.6" x2="672.8" y2="997.6" stroke-width="5" />
<line x1="695.0" y1="997.6" x2="723.0" y2="997.6" stroke-width="5" />
<line x1="745.3" y1="997.6" x2="770.4" y2="997.6" stroke-width="5" />
<line x1="611.4" y1="1022.5" x2="639.3" y2="1022.2" stroke-width="5" />
<line x1="661.6" y1="1021.9" x2="689.5" y2="1021.5" stroke-width="5" />
<line x1="711.8" y1="1021.3" x2="739.7" y2="1020.9" stroke-width="5" />
<line x1="763.5" y1="1020.7" x2="790.0" y2="1020.3" stroke-width="5" />
<path d="M572.3,1006 Q573,1022 586.3,1022.7" stroke-width="5" />
<g id="bbot">
<line x1="777.8" y1="1196.9" x2="906.8" y2="1196.9" stroke-width="2" />
<path d="M775.3,1197 Q768,1203 770.3,1208.6 Q772,1214 775.3,1218 C768,1228 755,1235 751,1240 L750,1247" stroke-width="5" />
<path d="M911.3,1197 Q918.5,1203 916.2,1208.6 Q914.5,1214 911.3,1218 C918.5,1228 931.5,1235 935.5,1240 L936.5,1247" stroke-width="5" />
<line x1="773.0" y1="1205.2" x2="913.0" y2="1205.2" stroke-width="1.8" />
<line x1="775.0" y1="1213.6" x2="911.0" y2="1213.6" stroke-width="1.8" />
<line x1="777.0" y1="1217.8" x2="909.0" y2="1217.8" stroke-width="1.8" />
<line x1="764.5" y1="1233.2" x2="921.5" y2="1233.2" stroke-width="1.8" />
<line x1="750.0" y1="1246.8" x2="936.5" y2="1246.8" stroke-width="5.5" />
<line x1="762.8" y1="1250.5" x2="923.5" y2="1250.5" stroke-width="5" />
<line x1="794.0" y1="1250.0" x2="794.0" y2="1260.0" stroke-width="5" />
<line x1="892.5" y1="1250.0" x2="892.5" y2="1260.0" stroke-width="5" />
</g>
<path d="M874.3,757.4 Q877,744 893.6,745.7" stroke-width="5" />
<line x1="870.9" y1="780.7" x2="867.2" y2="806.4" stroke-width="5" />
<line x1="863.6" y1="831.0" x2="859.9" y2="856.7" stroke-width="5" />
<line x1="856.3" y1="881.2" x2="852.8" y2="905.7" stroke-width="5" />
<line x1="849.3" y1="930.0" x2="844.9" y2="960.0" stroke-width="5" />
<line x1="898.3" y1="769.0" x2="893.3" y2="794.8" stroke-width="5" />
<line x1="888.6" y1="819.3" x2="881.9" y2="854.3" stroke-width="5" />
<line x1="878.8" y1="870.7" x2="874.1" y2="895.2" stroke-width="5" />
<line x1="869.6" y1="918.6" x2="865.1" y2="942.0" stroke-width="5" />
<g id="under">
<rect x="711" y="1261" width="264" height="17" rx="2" stroke-width="5.2"/>
<line x1="763.6" y1="1262.0" x2="763.6" y2="1277.0" stroke-width="1.6" />
<line x1="922.7" y1="1262.0" x2="922.7" y2="1277.0" stroke-width="1.6" />
<line x1="713.4" y1="1279.0" x2="770.3" y2="1302.3" stroke-width="5" />
<line x1="972.9" y1="1279.0" x2="916.0" y2="1302.3" stroke-width="5" />
<line x1="772.3" y1="1279.0" x2="772.3" y2="1334.0" stroke-width="5" />
<line x1="914.0" y1="1279.0" x2="914.0" y2="1334.0" stroke-width="5" />
<rect x="767" y="1333.3" width="152.3" height="18" fill="#231f20" stroke="none"/>
<rect x="763" y="1351" width="160.5" height="17.5" rx="6" fill="#231f20" stroke="none"/>
<line x1="770.0" y1="1355.0" x2="916.0" y2="1355.0" stroke-width="1.0" stroke="#fff"/>
<line x1="770.0" y1="1363.4" x2="916.0" y2="1363.4" stroke-width="1.0" stroke="#fff"/>
<line x1="768.6" y1="1368.0" x2="768.6" y2="1402.0" stroke-width="5" />
<line x1="789.6" y1="1368.0" x2="789.6" y2="1402.0" stroke-width="5" />
<rect x="761" y="1402" width="30" height="17.5" rx="2" fill="#231f20" stroke="none"/>
<rect x="766" y="1407" width="6" height="7" fill="#fff" stroke="none"/>
<rect x="779" y="1407" width="6" height="7" fill="#fff" stroke="none"/>
<line x1="917.4" y1="1368.0" x2="917.4" y2="1402.0" stroke-width="5" />
<line x1="896.4" y1="1368.0" x2="896.4" y2="1402.0" stroke-width="5" />
<rect x="895" y="1402" width="30" height="17.5" rx="2" fill="#231f20" stroke="none"/>
<rect x="900" y="1407" width="6" height="7" fill="#fff" stroke="none"/>
<rect x="913" y="1407" width="6" height="7" fill="#fff" stroke="none"/>
<line x1="793.8" y1="1371.0" x2="793.8" y2="1389.0" stroke-width="1.6" />
<line x1="838.1" y1="1371.0" x2="838.1" y2="1389.0" stroke-width="1.6" />
<line x1="849.0" y1="1371.0" x2="849.0" y2="1389.0" stroke-width="1.6" />
<line x1="890.9" y1="1371.0" x2="890.9" y2="1389.0" stroke-width="1.6" />
<path d="M808,1369 Q838,1372 843,1379 Q848,1372 878,1369" stroke-width="1.4" />
<line x1="790.4" y1="1392.0" x2="894.2" y2="1392.0" stroke-width="5" />
<path d="M794.1,1390 L794.1,1475 Q794.1,1479 798,1479 L889.3,1479 Q893.2,1479 893.2,1475 L893.2,1390" stroke-width="5.5" />
<line x1="805.9" y1="1482.0" x2="805.9" y2="2111.0" stroke-width="5" />
<line x1="840.0" y1="1482.0" x2="840.0" y2="2111.0" stroke-width="5" />
<line x1="846.7" y1="1482.0" x2="846.7" y2="2104.0" stroke-width="5" />
<path d="M881.3,1482 Q883,1750 885.5,1950 Q885,2050 883.6,2104" stroke-width="5" />
<line x1="843.3" y1="1490.0" x2="843.3" y2="2100.0" stroke-width="1.4" />
<path d="M883.6,1521 L891,1521 Q894.7,1523 894.7,1527 L894.7,1567 Q894.7,1571.5 889,1571.5 L883.6,1571.5" stroke-width="4.5" />
<path d="M883,1606 L886,1610 L886,1660 L883,1664" stroke-width="4" />
<path d="M802.8,1524.5 L802.9,1527.1 L803.0,1529.6 L803.1,1532.2 L803.1,1534.8 L803.2,1537.3 L803.3,1539.9 L803.3,1542.5 L803.3,1545.1 L803.4,1547.7 L803.4,1550.2 L803.4,1552.8 L803.3,1555.4 L803.3,1558.0 L803.3,1560.6 L803.2,1563.2 L803.1,1565.8 L803.0,1568.4 L802.9,1571.0 L802.8,1573.6 L802.7,1576.2 L802.5,1578.8 L802.4,1581.3 L802.2,1583.9 L802.0,1586.5 L801.8,1589.1 L801.5,1591.7 L801.3,1594.3 L801.0,1596.9 L800.7,1599.4 L800.4,1602.0 L800.1,1604.6 L799.8,1607.2 L799.4,1609.7 L799.1,1612.3 L798.7,1614.8 L798.3,1617.4 L797.8,1619.9 L797.4,1622.5 L796.9,1625.0 L796.4,1627.6 L795.9,1630.1 L795.4,1632.6 L794.9,1635.1 L794.3,1637.6 L793.7,1640.1 L793.1,1642.6 L792.5,1645.1 L791.8,1647.6 L791.2,1650.1 L790.5,1652.5 L789.7,1655.0 L789.0,1657.4 L788.2,1659.9 L787.4,1662.3 L786.6,1664.7 L785.8,1667.1 L784.9,1669.5 L784.1,1671.9 L783.2,1674.3 L782.2,1676.7 L781.3,1679.1 L780.3,1681.4 L779.3,1683.7 L778.3,1686.1 L777.2,1688.4 L776.1,1690.7 L775.0,1693.0 L773.9,1695.3 L772.7,1697.5 L771.5,1699.8 L770.3,1702.0 L769.1,1704.2 L767.8,1706.4 L766.5,1708.6 L765.2,1710.8 L763.8,1713.0 L762.5,1715.1 L761.1,1717.3 L759.6,1719.4 L758.2,1721.5 L756.7,1723.6 L755.2,1725.7 L753.6,1727.8 L752.1,1729.9 L750.5,1731.9 L748.9,1734.0 L747.3,1736.0 L745.7,1738.0 L744.1,1740.0 L742.4,1742.0 L740.8,1744.1 L739.1,1746.1 L737.4,1748.0 L735.8,1750.0 L734.1,1752.0 L732.4,1754.0 L730.7,1756.0 L729.0,1758.0 L727.3,1759.9 L725.6,1761.9 L723.9,1763.9 L722.2,1765.9 L720.5,1767.8 L718.8,1769.8 L717.1,1771.8 L715.4,1773.8 L713.7,1775.8 L712.0,1777.7 L710.4,1779.7 L708.7,1781.7 L707.0,1783.7 L705.4,1785.7 L703.7,1787.7 L702.1,1789.7 L700.5,1791.7 L698.8,1793.7 L697.2,1795.7 L695.6,1797.7 L694.0,1799.8 L692.4,1801.8 L690.8,1803.8 L689.3,1805.9 L687.7,1807.9 L686.2,1810.0 L684.6,1812.0 L683.1,1814.1 L681.6,1816.2 L680.1,1818.3 L678.6,1820.4 L677.1,1822.5 L675.7,1824.6 L674.2,1826.7 L672.8,1828.8 L671.4,1831.0 L670.0,1833.1 L668.6,1835.3 L667.3,1837.4 L665.9,1839.6 L664.6,1841.8 L663.3,1844.0 L662.0,1846.2 L660.7,1848.4 L659.4,1850.7 L658.2,1852.9 L656.9,1855.1 L655.7,1857.4 L654.5,1859.7 L653.4,1862.0 L652.2,1864.3 L651.1,1866.6 L650.0,1868.9 L648.9,1871.3 L647.8,1873.6 L646.8,1876.0 L645.8,1878.3 L644.8,1880.7 L643.8,1883.1 L642.9,1885.6 L641.9,1888.0" stroke-width="5" />
<path d="M803.2,1710.1 L802.5,1711.2 L801.9,1712.4 L801.2,1713.5 L800.5,1714.6 L799.8,1715.8 L799.1,1716.9 L798.4,1718.0 L797.6,1719.1 L796.9,1720.3 L796.2,1721.4 L795.5,1722.5 L794.7,1723.6 L794.0,1724.7 L793.2,1725.8 L792.5,1726.9 L791.7,1728.0 L791.0,1729.1 L790.2,1730.2 L789.4,1731.3 L788.6,1732.4 L787.9,1733.5 L787.1,1734.5 L786.3,1735.6 L785.5,1736.7 L784.7,1737.8 L783.9,1738.9 L783.1,1739.9 L782.3,1741.0 L781.5,1742.1 L780.7,1743.1 L779.9,1744.2 L779.1,1745.3 L778.2,1746.3 L777.4,1747.4 L776.6,1748.4 L775.8,1749.5 L774.9,1750.6 L774.1,1751.6 L773.3,1752.7 L772.4,1753.7 L771.6,1754.8 L770.7,1755.8 L769.9,1756.9 L769.1,1757.9 L768.2,1759.0 L767.4,1760.0 L766.5,1761.1 L765.7,1762.1 L764.8,1763.1 L764.0,1764.2 L763.1,1765.2 L762.3,1766.3 L761.4,1767.3 L760.5,1768.4 L759.7,1769.4 L758.8,1770.4 L758.0,1771.5 L757.1,1772.5 L756.3,1773.6 L755.4,1774.6 L754.6,1775.6 L753.7,1776.7 L752.8,1777.7 L752.0,1778.8 L751.1,1779.8 L750.3,1780.9 L749.4,1781.9 L748.6,1782.9 L747.7,1784.0 L746.9,1785.0 L746.0,1786.1 L745.2,1787.1 L744.3,1788.2 L743.5,1789.2 L742.7,1790.3 L741.8,1791.3 L741.0,1792.4 L740.1,1793.4 L739.3,1794.5 L738.5,1795.5 L737.6,1796.6 L736.8,1797.6 L736.0,1798.7 L735.2,1799.8 L734.3,1800.8 L733.5,1801.9 L732.7,1802.9 L731.9,1804.0 L731.1,1805.1 L730.3,1806.2 L729.5,1807.2 L728.7,1808.3 L727.9,1809.4 L727.1,1810.5 L726.3,1811.5 L725.5,1812.6 L724.8,1813.7 L724.0,1814.8 L723.2,1815.9 L722.5,1817.0 L721.7,1818.1 L720.9,1819.2 L720.2,1820.3 L719.5,1821.4 L718.7,1822.5 L718.0,1823.6 L717.2,1824.7 L716.5,1825.8 L715.8,1826.9 L715.1,1828.1 L714.4,1829.2 L713.7,1830.3 L713.0,1831.5 L712.3,1832.6 L711.6,1833.7 L710.9,1834.9 L710.2,1836.0 L709.6,1837.2 L708.9,1838.3 L708.3,1839.5 L707.6,1840.6 L707.0,1841.8 L706.3,1843.0 L705.7,1844.1 L705.1,1845.3 L704.5,1846.5 L703.9,1847.7 L703.3,1848.9 L702.7,1850.1 L702.1,1851.3 L701.5,1852.5 L701.0,1853.7 L700.4,1854.9 L699.8,1856.1 L699.3,1857.3 L698.8,1858.6 L698.2,1859.8 L697.7,1861.0 L697.2,1862.3 L696.7,1863.5 L696.2,1864.8 L695.7,1866.0 L695.3,1867.3 L694.8,1868.5 L694.3,1869.8 L693.9,1871.1 L693.4,1872.4 L693.0,1873.7 L692.6,1875.0 L692.2,1876.3 L691.8,1877.6 L691.4,1878.9 L691.0,1880.2 L690.7,1881.5 L690.3,1882.8 L690.0,1884.2 L689.6,1885.5 L689.3,1886.9 L689.0,1888.2" stroke-width="5" />
<path d="M638.0,2019.5 L638.4,2020.7 L638.8,2022.0 L639.2,2023.3 L639.6,2024.5 L640.0,2025.8 L640.5,2027.0 L640.9,2028.2 L641.4,2029.5 L641.8,2030.7 L642.3,2031.9 L642.8,2033.2 L643.4,2034.4 L643.9,2035.6 L644.4,2036.8 L645.0,2038.0 L645.5,2039.2 L646.1,2040.3 L646.7,2041.5 L647.3,2042.7 L647.9,2043.9 L648.5,2045.0 L649.2,2046.2 L649.8,2047.3 L650.5,2048.5 L651.2,2049.6 L651.8,2050.7 L652.5,2051.9 L653.2,2053.0 L653.9,2054.1 L654.7,2055.2 L655.4,2056.3 L656.2,2057.4 L656.9,2058.5 L657.7,2059.5 L658.4,2060.6 L659.2,2061.7 L660.0,2062.7 L660.8,2063.8 L661.7,2064.8 L662.5,2065.8 L663.3,2066.9 L664.2,2067.9 L665.0,2068.9 L665.9,2069.9 L666.8,2070.9 L667.6,2071.9 L668.5,2072.9 L669.4,2073.8 L670.3,2074.8 L671.3,2075.7 L672.2,2076.7 L673.1,2077.6 L674.1,2078.6 L675.0,2079.5 L676.0,2080.4 L677.0,2081.3 L677.9,2082.2 L678.9,2083.1 L679.9,2084.0 L680.9,2084.8 L681.9,2085.7 L683.0,2086.6 L684.0,2087.4 L685.0,2088.2 L686.1,2089.1 L687.1,2089.9 L688.2,2090.7 L689.2,2091.5 L690.3,2092.3 L691.4,2093.1 L692.4,2093.8 L693.5,2094.6 L694.6,2095.4 L695.7,2096.1 L696.8,2096.8 L697.9,2097.6 L699.1,2098.3 L700.2,2099.0 L701.3,2099.7 L702.5,2100.4 L703.6,2101.0 L704.8,2101.7 L705.9,2102.4 L707.1,2103.0 L708.2,2103.6 L709.4,2104.3 L710.6,2104.9 L711.8,2105.5 L713.0,2106.1 L714.2,2106.6 L715.3,2107.2 L716.6,2107.8 L717.8,2108.3 L719.0,2108.9 L720.2,2109.4 L721.4,2109.9 L722.6,2110.4 L723.9,2110.9 L725.1,2111.4 L726.3,2111.9 L727.6,2112.3 L728.8,2112.8 L730.1,2113.2 L731.3,2113.6 L732.6,2114.1 L733.8,2114.5 L735.1,2114.8 L736.3,2115.2 L737.6,2115.6 L738.9,2115.9 L740.1,2116.3 L741.4,2116.6 L742.7,2116.9 L744.0,2117.2 L745.3,2117.5 L746.6,2117.8 L747.8,2118.1 L749.1,2118.4 L750.4,2118.6 L751.7,2118.8 L753.0,2119.1 L754.3,2119.3 L755.6,2119.5 L756.9,2119.6 L758.2,2119.8 L759.5,2120.0 L760.8,2120.1 L762.1,2120.2 L763.4,2120.3 L764.7,2120.5 L766.1,2120.5 L767.4,2120.6 L768.7,2120.7 L770.0,2120.7 L771.3,2120.8 L772.6,2120.8 L773.9,2120.8 L775.2,2120.8 L776.6,2120.8 L777.9,2120.7 L779.2,2120.7 L780.5,2120.6 L781.8,2120.6 L783.1,2120.5 L784.4,2120.4 L785.7,2120.2 L787.1,2120.1 L788.4,2120.0 L789.7,2119.8 L791.0,2119.6 L792.3,2119.4 L793.6,2119.2 L794.9,2119.0 L796.2,2118.8 L797.5,2118.5 L798.8,2118.3 L800.1,2118.0 L801.4,2117.7 L802.7,2117.4" stroke-width="5" />
<path d="M679.6,2019.5 L680.0,2020.3 L680.5,2021.0 L680.9,2021.7 L681.4,2022.4 L681.8,2023.2 L682.3,2023.9 L682.8,2024.6 L683.3,2025.4 L683.8,2026.1 L684.3,2026.8 L684.8,2027.6 L685.3,2028.3 L685.9,2029.1 L686.4,2029.8 L686.9,2030.5 L687.5,2031.3 L688.0,2032.0 L688.6,2032.7 L689.1,2033.5 L689.7,2034.2 L690.2,2034.9 L690.8,2035.7 L691.4,2036.4 L692.0,2037.1 L692.6,2037.8 L693.2,2038.6 L693.8,2039.3 L694.4,2040.0 L695.0,2040.7 L695.6,2041.5 L696.3,2042.2 L696.9,2042.9 L697.5,2043.6 L698.2,2044.3 L698.8,2045.0 L699.5,2045.7 L700.1,2046.4 L700.8,2047.1 L701.5,2047.8 L702.1,2048.5 L702.8,2049.2 L703.5,2049.9 L704.2,2050.6 L704.9,2051.3 L705.6,2051.9 L706.3,2052.6 L707.0,2053.3 L707.7,2053.9 L708.4,2054.6 L709.1,2055.2 L709.8,2055.9 L710.6,2056.5 L711.3,2057.2 L712.0,2057.8 L712.8,2058.5 L713.5,2059.1 L714.3,2059.7 L715.0,2060.3 L715.8,2060.9 L716.5,2061.5 L717.3,2062.1 L718.0,2062.7 L718.8,2063.3 L719.6,2063.9 L720.4,2064.5 L721.2,2065.0 L721.9,2065.6 L722.7,2066.2 L723.5,2066.7 L724.3,2067.3 L725.1,2067.8 L725.9,2068.3 L726.7,2068.8 L727.5,2069.4 L728.3,2069.9 L729.2,2070.4 L730.0,2070.9 L730.8,2071.3 L731.6,2071.8 L732.4,2072.3 L733.3,2072.8 L734.1,2073.2 L734.9,2073.7 L735.8,2074.1 L736.6,2074.5 L737.5,2074.9 L738.3,2075.4 L739.2,2075.8 L740.0,2076.2 L740.9,2076.5 L741.7,2076.9 L742.6,2077.3 L743.4,2077.6 L744.3,2078.0 L745.2,2078.3 L746.0,2078.7 L746.9,2079.0 L747.8,2079.3 L748.6,2079.6 L749.5,2079.9 L750.4,2080.1 L751.3,2080.4 L752.2,2080.7 L753.0,2080.9 L753.9,2081.1 L754.8,2081.4 L755.7,2081.6 L756.6,2081.8 L757.5,2082.0 L758.4,2082.2 L759.3,2082.3 L760.1,2082.5 L761.0,2082.6 L761.9,2082.7 L762.8,2082.9 L763.7,2083.0 L764.6,2083.1 L765.5,2083.2 L766.4,2083.2 L767.3,2083.3 L768.2,2083.3 L769.2,2083.4 L770.1,2083.4 L771.0,2083.4 L771.9,2083.4 L772.8,2083.4 L773.7,2083.3 L774.6,2083.3 L775.5,2083.2 L776.4,2083.1 L777.3,2083.0 L778.2,2082.9 L779.1,2082.8 L780.1,2082.7 L781.0,2082.5 L781.9,2082.4 L782.8,2082.2 L783.7,2082.0 L784.6,2081.8 L785.5,2081.6 L786.4,2081.4 L787.3,2081.1 L788.3,2080.8 L789.2,2080.6 L790.1,2080.3 L791.0,2080.0 L791.9,2079.6 L792.8,2079.3 L793.7,2078.9 L794.6,2078.5 L795.5,2078.2 L796.4,2077.7 L797.3,2077.3 L798.2,2076.9 L799.1,2076.4 L800.0,2075.9 L800.9,2075.4 L801.9,2074.9 L802.8,2074.4" stroke-width="5" />
<path d="M619.7,1890.7 L697.8,1890.7 Q705.4,1890.7 708,1899 L716.2,1927.8 L716.2,1979.4 L708,2009.6 Q705.4,2018 697.8,2018 L619.7,2018 Q612.1,2018 609.5,2009.6 L601.3,1979.4 L601.3,1927.8 L609.5,1899 Q612.1,1890.7 619.7,1890.7Z" fill="#fff" stroke-width="5.3"/>
<line x1="601.3" y1="1930.2" x2="716.2" y2="1930.2" stroke-width="5.3" />
<line x1="601.3" y1="1978.6" x2="716.2" y2="1978.6" stroke-width="5.3" />
<line x1="613.4" y1="1898.5" x2="704.0" y2="1898.5" stroke-width="1.6" />
<line x1="613.4" y1="2009.8" x2="704.0" y2="2009.8" stroke-width="1.6" />
<circle cx="625.2" cy="1954.4" r="7.8" fill="#231f20" stroke="none"/>
<circle cx="625.2" cy="1954.4" r="1.2" fill="#fff" stroke="none"/>
<circle cx="693.1" cy="1954.4" r="7.8" fill="#231f20" stroke="none"/>
<circle cx="693.1" cy="1954.4" r="1.2" fill="#fff" stroke="none"/>
<path d="M802,2121 L843,2121 Q838,2130 839,2140 Q843,2152 843,2160 Q842,2166 838,2166 L807,2166 Q802,2166 802,2160 Q802,2152 806,2140 Q807,2130 802,2121Z" fill="#231f20" stroke="none"/>
<rect x="803.5" y="2111.5" width="38" height="11" rx="2" fill="#fff" stroke-width="5"/>
<rect x="804.8" y="2165" width="35.8" height="24" fill="#231f20" stroke="none"/>
<rect x="811" y="2169" width="5.2" height="18" fill="#fff" stroke="none"/>
<rect x="825" y="2169" width="7" height="18" fill="#fff" stroke="none"/>
<line x1="813.5" y1="2134.0" x2="813.5" y2="2149.0" stroke-width="0.9" stroke="#fff"/>
<line x1="816.5" y1="2134.0" x2="816.5" y2="2149.0" stroke-width="0.9" stroke="#fff"/>
<line x1="821.0" y1="2134.0" x2="821.0" y2="2149.0" stroke-width="0.9" stroke="#fff"/>
<line x1="823.5" y1="2134.0" x2="823.5" y2="2149.0" stroke-width="0.9" stroke="#fff"/>
<line x1="827.5" y1="2134.0" x2="827.5" y2="2149.0" stroke-width="0.9" stroke="#fff"/>
<line x1="831.0" y1="2134.0" x2="831.0" y2="2149.0" stroke-width="0.9" stroke="#fff"/>
<path d="M812.8,2124 L818,2124 L815.4,2130Z M824,2124 L830,2124 L827,2130Z M812,2158 L818.5,2158 L815.2,2152Z M823.5,2158 L830,2158 L826.8,2152Z" fill="#fff" stroke="none"/>
<rect x="790.2" y="2188.6" width="64.3" height="39.4" rx="6" fill="#231f20" stroke="none"/>
<path d="M795.5,2194.8 Q805.7,2192.6 816,2194.8 L816,2221.6 Q805.7,2223.8 795.5,2221.6Z M821.5,2194.8 Q835,2192.6 849,2194.8 L849,2221.6 Q835,2223.8 821.5,2221.6Z" fill="#fff" stroke="none"/>
<path d="M843.5,2115 L884.5,2115 Q880,2124 881,2134 Q884.5,2146 884.5,2154 Q884,2160 880,2160 L848,2160 Q843.5,2160 843.5,2154 Q843.5,2146 847,2134 Q848,2124 843.5,2115Z" fill="#231f20" stroke="none"/>
<rect x="845.5" y="2105.5" width="37" height="11" rx="2" fill="#fff" stroke-width="5"/>
<rect x="846" y="2159" width="35" height="25" fill="#231f20" stroke="none"/>
<rect x="852.3" y="2163" width="5.1" height="5.5" fill="#fff" stroke="none"/>
<rect x="866.2" y="2163" width="6.6" height="5.5" fill="#fff" stroke="none"/>
<rect x="852.3" y="2176" width="5.1" height="5.5" fill="#fff" stroke="none"/>
<rect x="866.2" y="2176" width="6.6" height="5.5" fill="#fff" stroke="none"/>
<line x1="855.0" y1="2130.0" x2="855.0" y2="2143.0" stroke-width="0.9" stroke="#fff"/>
<line x1="858.0" y1="2130.0" x2="858.0" y2="2143.0" stroke-width="0.9" stroke="#fff"/>
<line x1="862.0" y1="2130.0" x2="862.0" y2="2143.0" stroke-width="0.9" stroke="#fff"/>
<line x1="865.0" y1="2130.0" x2="865.0" y2="2143.0" stroke-width="0.9" stroke="#fff"/>
<line x1="869.0" y1="2130.0" x2="869.0" y2="2143.0" stroke-width="0.9" stroke="#fff"/>
<line x1="872.0" y1="2130.0" x2="872.0" y2="2143.0" stroke-width="0.9" stroke="#fff"/>
<path d="M854,2118 L860,2118 L857,2124Z M866,2118 L872,2118 L869,2124Z M854,2153 L860,2153 L857,2147Z M866,2153 L872,2153 L869,2147Z" fill="#fff" stroke="none"/>
<rect x="831.7" y="2182.2" width="64.7" height="40.2" rx="6" fill="#231f20" stroke="none"/>
<path d="M837.5,2189.3 Q847.5,2187.1 857.5,2189.3 L857.5,2216.4 Q847.5,2218.6 837.5,2216.4Z M862,2189.3 Q877,2187.1 891.5,2189.3 L891.5,2216.4 Q877,2218.6 862,2216.4Z" fill="#fff" stroke="none"/>
</g>
<use href="#under" x="752"/>
<use href="#cap" x="751.75"/>
<use href="#bbot" x="751.75"/>
<path d="M1553.3,452 L1553.3,119 A41.25,41.25 0 0 1 1635.8,119 L1635.8,452" stroke-width="5" />
<path d="M1553,453 Q1595,446 1636,453" stroke-width="8" />
<path d="M1551,459 Q1595,452 1639,459 A5,5 0 0 1 1639,469 Q1595,463 1551,469 A5,5 0 0 1 1551,459Z" stroke-width="5" />
<line x1="1553.3" y1="469.0" x2="1553.3" y2="652.0" stroke-width="5" />
<line x1="1635.8" y1="469.0" x2="1635.8" y2="652.0" stroke-width="5" />
<rect x="1585.5" y="484" width="19" height="162" rx="9.5" stroke-width="5.5"/>
<path d="M1590,641 Q1595,645 1600,641" stroke-width="1.5" />
<path d="M1550,655 Q1595,649 1640,655 A5,5 0 0 1 1640,664 Q1595,659 1550,664 A5,5 0 0 1 1550,655Z" stroke-width="5" />
<path d="M1553,667 Q1541,680 1538.7,697" stroke-width="5" />
<path d="M1636,667 Q1648,680 1650.5,697" stroke-width="5" />
<path d="M1538.7,698 Q1595,690 1650.5,698" stroke-width="5" />
<ellipse cx="1595" cy="712" rx="63" ry="12.5" stroke-width="5"/>
<ellipse cx="1595" cy="712.6" rx="51" ry="8" fill="#231f20" stroke="none"/>
<path d="M1548,711 Q1556,707 1566,707" stroke-width="1.2" stroke="#fff"/>
<path d="M1642,711 Q1634,707 1624,707" stroke-width="1.2" stroke="#fff"/>
<line x1="1553.3" y1="726.0" x2="1553.3" y2="868.0" stroke-width="5" />
<line x1="1635.8" y1="726.0" x2="1635.8" y2="868.0" stroke-width="5" />
<line x1="1595.6" y1="646.0" x2="1595.6" y2="884.6" stroke-width="2" />
<path d="M1596.0,666.5 L1622.0,651.0 L1622.0,682.0Z" fill="#231f20" stroke="none"/>
<line x1="1620.7" y1="666.5" x2="1642.5" y2="666.5" stroke-width="2.2" />
<line x1="1642.5" y1="666.5" x2="1760.2" y2="666.5" stroke-width="2.2" />
<line x1="1859.0" y1="666.5" x2="1992.0" y2="666.5" stroke-width="2.2" />
<path d="M2017.5,666.5 L1991.5,682.0 L1991.5,651.0Z" fill="#231f20" stroke="none"/>
<line x1="2017.5" y1="643.0" x2="2017.5" y2="881.7" stroke-width="2.2" />
<path d="M1596.0,758.1 L1622.0,742.6 L1622.0,773.6Z" fill="#231f20" stroke="none"/>
<line x1="1620.7" y1="758.1" x2="1707.9" y2="758.1" stroke-width="2.2" />
<line x1="1806.7" y1="758.1" x2="1900.0" y2="758.1" stroke-width="2.2" />
<path d="M1926.0,758.1 L1900.0,773.6 L1900.0,742.6Z" fill="#231f20" stroke="none"/>
<line x1="1926.0" y1="733.4" x2="1926.0" y2="995.0" stroke-width="2.2" />
<line x1="1527.1" y1="891.0" x2="1527.1" y2="1198.0" stroke-width="5" />
<line x1="1662.7" y1="891.0" x2="1662.7" y2="932.5" stroke-width="5" />
<line x1="1662.7" y1="1091.0" x2="1662.7" y2="1198.0" stroke-width="5" />
<path d="M1662.7,930 Q1663,945.6 1677,945.6 L1757,945.6" stroke-width="5" />
<path d="M1662.7,1093 Q1663,1075 1677,1075 L1757,1075" stroke-width="5" />
<path d="M1660,932.5 C1628,962 1597,990 1597,1009.6 C1597,1030 1628,1060 1660,1091" stroke-width="1.8" />
<path d="M1677.3,948.5 L1632.3,1006.7 Q1631,1010 1632.3,1013 L1677.3,1073.5" stroke-width="1.8" />
<line x1="1757.0" y1="944.0" x2="1757.0" y2="1068.0" stroke-width="5" />
<path d="M1765,1068 L1765,945 Q1765,939 1772,939 Q1779,939 1779,945 L1779,1068 Q1779,1074 1772,1074 Q1765,1074 1765,1068Z" stroke-width="5" />
<line x1="1769.5" y1="948.0" x2="1769.5" y2="1066.0" stroke-width="1.4" />
<rect x="1779" y="944.7" width="25.6" height="120" rx="3" stroke-width="5"/>
<line x1="1783.0" y1="950.0" x2="1783.0" y2="1062.0" stroke-width="1.4" />
<rect x="1804.6" y="953" width="24.9" height="111.8" rx="3" stroke-width="5"/>
<line x1="1807.0" y1="991.0" x2="1827.0" y2="991.0" stroke-width="1.4" />
<line x1="1807.0" y1="1045.7" x2="1827.0" y2="1045.7" stroke-width="1.4" />
<path d="M1808,958 Q1812,975 1808,991 Q1812,1018 1808,1045 Q1812,1055 1808,1062" stroke-width="1.3" />
<rect x="1829.5" y="971.2" width="34.7" height="76.2" rx="3" stroke-width="5"/>
<line x1="1833.5" y1="974.0" x2="1833.5" y2="1045.0" stroke-width="1.4" />
<rect x="1850" y="973" width="9" height="72" fill="#231f20" stroke="none"/>
<line x1="1861.0" y1="974.0" x2="1861.0" y2="1045.0" stroke-width="1.3" stroke="#fff"/>
<line x1="1866.5" y1="990.0" x2="1866.5" y2="1032.0" stroke-width="4" />
<path d="M1890.7,978.7 L1887.4,953.8 L1880.8,895.9 L1875.8,838 L1875.8,813.1 A26.1,13 0 0 1 1928,812.3 L1928,846.2 L1925.5,912.5 L1920.5,970.4 L1915.6,1036.6 Q1912,1052 1899,1053.2 Q1891,1052 1890.7,1045" stroke-width="5.5" />
<path d="M1890.7,980 Q1888,991 1869.2,991.1" stroke-width="5" />
<path d="M1869,1032 Q1880,1025 1885,1040 Q1888,1050 1890.7,1045" stroke-width="5" />
<line x1="1868.0" y1="990.0" x2="1868.0" y2="1033.0" stroke-width="3" />
<line x1="1880.5" y1="828.0" x2="1890.7" y2="975.0" stroke-width="1.4" />
<path d="M1880.8,813.1 L1889,823 L1899.8,822.2 L1901.5,804.8" stroke-width="1.6" />
<path d="M1911.4,823.9 L1913.9,833 L1923,828 L1924.7,810.6" stroke-width="1.6" />
<rect x="1914" y="975" width="12" height="66" fill="#231f20" stroke="none"/>
<path d="M1963.6,890.1 Q1975,868 1990,867.7 Q2010,870 2016,880 Q2020,892 2005,915" stroke-width="5" />
<line x1="1952.8" y1="911.6" x2="1940.4" y2="934.0" stroke-width="5" />
<line x1="1929.6" y1="954.7" x2="1918.9" y2="972.0" stroke-width="5" />
<line x1="1992.5" y1="935.6" x2="1978.5" y2="956.3" stroke-width="5" />
<line x1="1965.2" y1="976.2" x2="1948.7" y2="996.9" stroke-width="5" />
<line x1="1935.0" y1="1014.0" x2="1921.0" y2="1035.0" stroke-width="5" />
<path d="M1918.9,1058 Q1918,1064 1911.4,1064.8 M1909,1086.3 Q1902,1100 1879.1,1102.8 Q1862,1098 1857.6,1074.7" stroke-width="5" />
<line x1="1856.0" y1="1061.5" x2="1842.7" y2="1083.0" stroke-width="5" />
<line x1="1836.0" y1="1074.7" x2="1817.9" y2="1068.0" stroke-width="5" />
<line x1="1822.8" y1="1071.4" x2="1794.7" y2="1084.6" stroke-width="5" />
<line x1="1773.2" y1="1091.3" x2="1755.0" y2="1084.6" stroke-width="5" />
<line x1="1800.0" y1="1090.0" x2="1785.0" y2="1095.0" stroke-width="5" />
</g>
</svg>
</body></html>
